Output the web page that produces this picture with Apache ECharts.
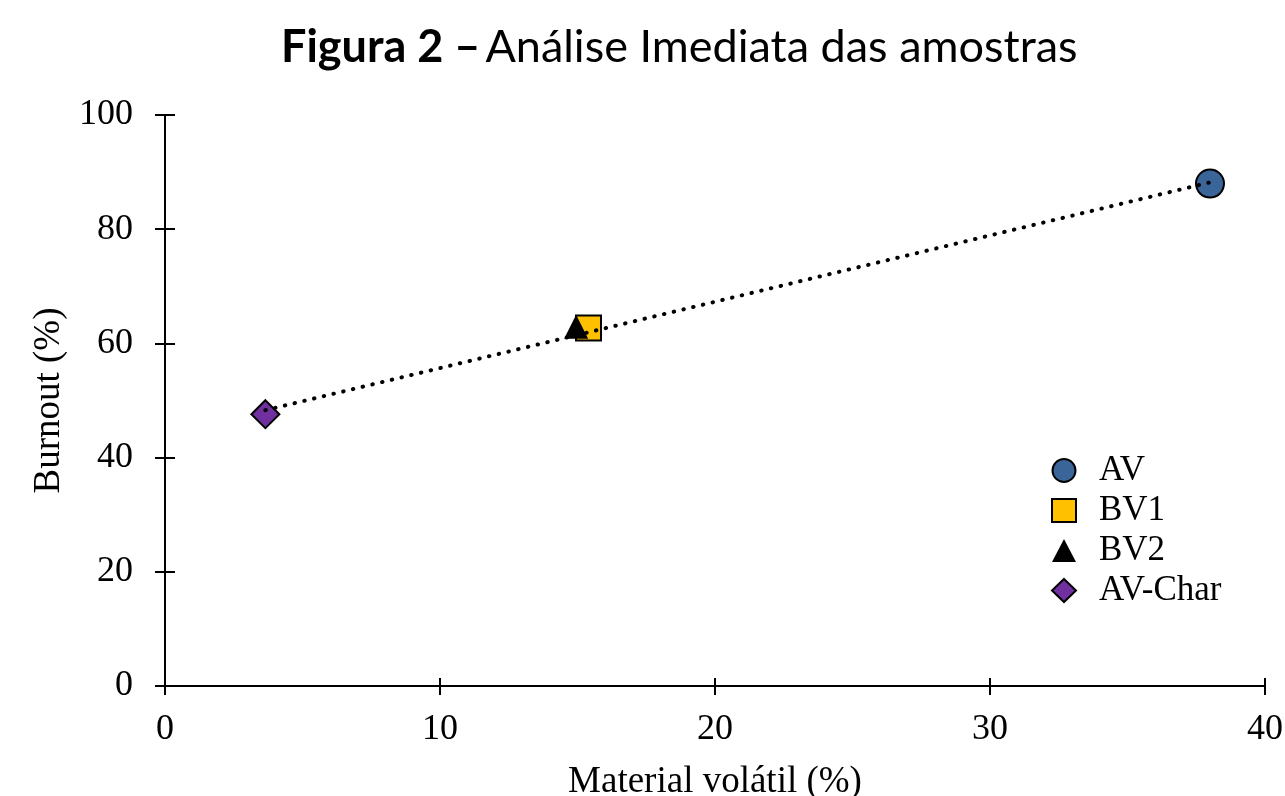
<!DOCTYPE html>
<html><head><meta charset="utf-8">
<script src="https://cdn.jsdelivr.net/npm/echarts@6/dist/echarts.min.js"></script>
<style>html,body{margin:0;padding:0;background:#fff}#c{width:1285px;height:796px}</style>
</head><body><div id="c"></div>
<script>
const seriesNames = ['AV', 'BV1', 'BV2', 'AV-Char'];
const xValues = [38.0, 15.4, 14.95, 3.65];
const yValues = [88.0, 62.7, 62.9, 47.6];
const trendX = [3.65, 38.0];
const trendY = [48.3, 88.2];
const xTicks = [0, 10, 20, 30, 40];
const yTicks = [0, 20, 40, 60, 80, 100];

const symbols = ['circle', 'rect', 'triangle', 'diamond'];
const colors = ['#3A6598', '#FFC000', '#000000', '#7030A0'];
const sizes = [28, 25, 24, 28];

const serif = '"Liberation Serif", "Times New Roman", serif';
const chart = echarts.init(document.getElementById('c'));

const series = seriesNames.map((n, i) => ({
  name: n, type: 'scatter', symbol: symbols[i], symbolSize: sizes[i],
  data: [[xValues[i], yValues[i]]],
  itemStyle: { color: colors[i], opacity: 1, borderColor: '#000', borderWidth: i === 2 ? 0 : 2 },
  z: 2
}));
series.push({
  type: 'line', data: trendX.map((x, i) => [x, trendY[i]]), symbol: 'none',
  lineStyle: { color: '#000', width: 4, type: [0.5, 9.5], cap: 'round' },
  z: 5, silent: true
});

const baseX = { type: 'value', min: xTicks[0], max: xTicks[xTicks.length - 1], interval: 10 };
const baseY = { type: 'value', min: yTicks[0], max: yTicks[yTicks.length - 1], interval: 20 };

chart.setOption({
  animation: false,
  title: {
    text: '{b|Figura 2 –} {n|Análise Imediata das amostras}',
    left: 276, top: 20,
    textStyle: { rich: {
      b: { fontFamily: 'Lato, "Open Sans", sans-serif', fontWeight: 'bold', fontSize: 45, color: '#000' },
      n: { fontFamily: 'Lato, "Open Sans", sans-serif', fontWeight: 'normal', fontSize: 45, color: '#000' }
    } }
  },
  grid: { left: 165, right: 20, top: 115, bottom: 110, containLabel: false, outerBoundsMode: 'none' },
  legend: {
    data: seriesNames, orient: 'vertical', left: 1046, top: 448,
    itemWidth: 24, itemHeight: 23, itemGap: 5,
    textStyle: { fontFamily: serif, fontSize: 35, lineHeight: 35, color: '#000', padding: [0, 0, 0, 18] }
  },
  xAxis: [
    Object.assign({}, baseX, {
      name: 'Material volátil (%)', nameLocation: 'middle', nameGap: 78,
      nameTextStyle: { fontFamily: serif, fontSize: 37, color: '#000' },
      axisLine: { lineStyle: { color: '#000', width: 2 } },
      axisTick: { inside: false, length: 9, lineStyle: { color: '#000', width: 2 } },
      axisLabel: { fontFamily: serif, fontSize: 36, color: '#000', margin: 26 },
      splitLine: { show: false }
    }),
    Object.assign({}, baseX, {
      position: 'bottom',
      axisLine: { show: false },
      axisTick: { inside: true, length: 8, lineStyle: { color: '#000', width: 2 } },
      axisLabel: { show: false }, splitLine: { show: false }
    })
  ],
  yAxis: [
    Object.assign({}, baseY, {
      name: 'Burnout (%)', nameLocation: 'middle', nameGap: 97,
      nameTextStyle: { fontFamily: serif, fontSize: 37, color: '#000' },
      axisLine: { lineStyle: { color: '#000', width: 2 } },
      axisTick: { inside: false, length: 10, lineStyle: { color: '#000', width: 2 } },
      axisLabel: { fontFamily: serif, fontSize: 36, color: '#000', margin: 32 },
      splitLine: { show: false }
    }),
    Object.assign({}, baseY, {
      position: 'left',
      axisLine: { show: false },
      axisTick: { inside: true, length: 10, lineStyle: { color: '#000', width: 2 } },
      axisLabel: { show: false }, splitLine: { show: false }
    })
  ],
  series: series
});
</script></body></html>
